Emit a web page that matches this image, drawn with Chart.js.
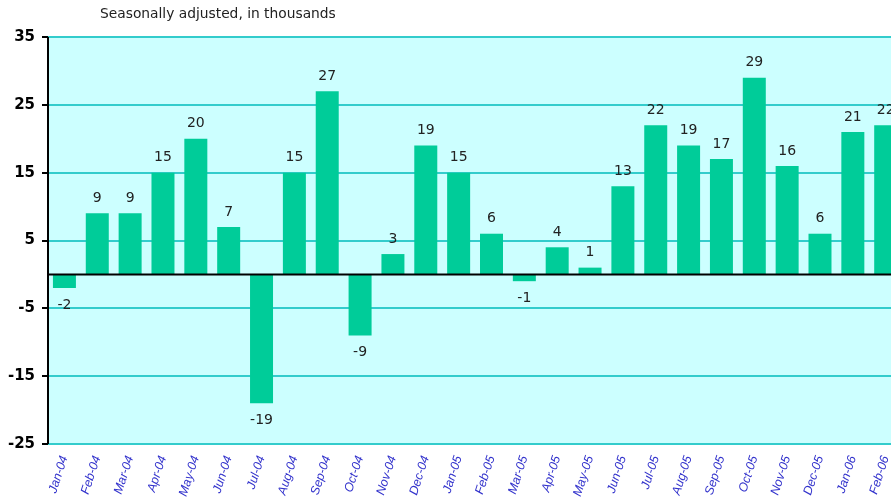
<!DOCTYPE html>
<html>
<head>
<meta charset="utf-8">
<script src="https://cdn.jsdelivr.net/npm/chart.js@4/dist/chart.umd.min.js"></script>
<style>
  html, body { margin: 0; padding: 0; background: #fff; overflow: hidden; }
  #wrap { width: 910px; height: 501px; }
</style>
</head>
<body>
<div id="wrap"><canvas id="grafico" width="910" height="501"></canvas></div>
<script>
const meses = ["Jan-04","Feb-04","Mar-04","Apr-04","May-04","Jun-04","Jul-04","Aug-04","Sep-04","Oct-04","Nov-04","Dec-04",
  "Jan-05","Feb-05","Mar-05","Apr-05","May-05","Jun-05","Jul-05","Aug-05","Sep-05","Oct-05","Nov-05","Dec-05",
  "Jan-06","Feb-06"];
const cambios = [-2, 9, 9, 15, 20, 7, -19, 15, 27, -9, 3, 19,
  15, 6, -1, 4, 1, 13, 22, 19, 17, 29, 16, 6,
  21, 22];
const ticksY = [-25, -15, -5, 5, 15, 25, 35];
const subtitulo = "Seasonally adjusted, in thousands";

// fondo del area del grafico, linea de cero, etiquetas
const extras = {
  id: "extras",
  beforeDraw(chart) {
    const { ctx, chartArea: a } = chart;
    ctx.save();
    ctx.fillStyle = "#ccffff";
    ctx.fillRect(a.left, a.top, a.right - a.left, a.bottom - a.top);
    ctx.restore();
  },
  afterDatasetsDraw(chart) {
    const { ctx, chartArea: a } = chart;
    const y = chart.scales.y;
    const y0 = y.getPixelForValue(0);
    ctx.save();
    ctx.strokeStyle = "#000";
    ctx.lineWidth = 2;
    ctx.beginPath();
    ctx.moveTo(a.left, y0);
    ctx.lineTo(a.right, y0);
    ctx.stroke();

    // eje izquierdo
    ctx.beginPath();
    ctx.moveTo(a.left, a.top);
    ctx.lineTo(a.left, a.bottom);
    ctx.stroke();

    // valores sobre barras
    ctx.font = "14px 'DejaVu Sans'";
    ctx.fillStyle = "#222";
    ctx.textAlign = "center";
    ctx.textBaseline = "middle";
    const meta = chart.getDatasetMeta(0);
    meta.data.forEach((bar, i) => {
      const v = cambios[i];
      const py = v >= 0 ? bar.y - 15 : bar.y + 17;
      ctx.fillText(String(v), bar.x, py);
    });

    // subtitulo
    ctx.font = "13.8px 'DejaVu Sans'";
    ctx.fillStyle = "#222";
    ctx.textAlign = "left";
    ctx.fillText(subtitulo, 100, 14);
    ctx.restore();
  }
};

const ctx = document.getElementById("grafico").getContext("2d");
new Chart(ctx, {
  type: "bar",
  data: {
    labels: meses,
    datasets: [{
      data: cambios,
      backgroundColor: "#00cc99",
      borderWidth: 0,
      barPercentage: 0.7,
      categoryPercentage: 1
    }]
  },
  options: {
    responsive: false,
    animation: false,
    layout: { padding: { top: 37, right: 2, left: 0, bottom: 0 } },
    plugins: {
      legend: { display: false },
      tooltip: { enabled: false }
    },
    scales: {
      x: {
        grid: { display: false, drawTicks: false },
        border: { display: false },
        afterFit(scale) { scale.height = 57; },
        ticks: {
          color: "#3333cc",
          font: { family: "'Liberation Sans', Arial", size: 12.5, style: "italic" },
          minRotation: 72,
          maxRotation: 72,
          autoSkip: false,
          padding: 10
        }
      },
      y: {
        min: -25,
        max: 35,
        afterBuildTicks(scale) {
          scale.ticks = ticksY.map(v => ({ value: v }));
        },
        afterFit(scale) { scale.width = 48; },
        border: { display: false },
        grid: {
          color: "#33cccc",
          lineWidth: 2,
          tickColor: "#000",
          tickLength: 6
        },
        ticks: {
          color: "#000",
          padding: 7,
          font: { family: "'DejaVu Sans'", size: 15, weight: "bold" }
        }
      }
    }
  },
  plugins: [extras]
});
</script>
</body>
</html>
